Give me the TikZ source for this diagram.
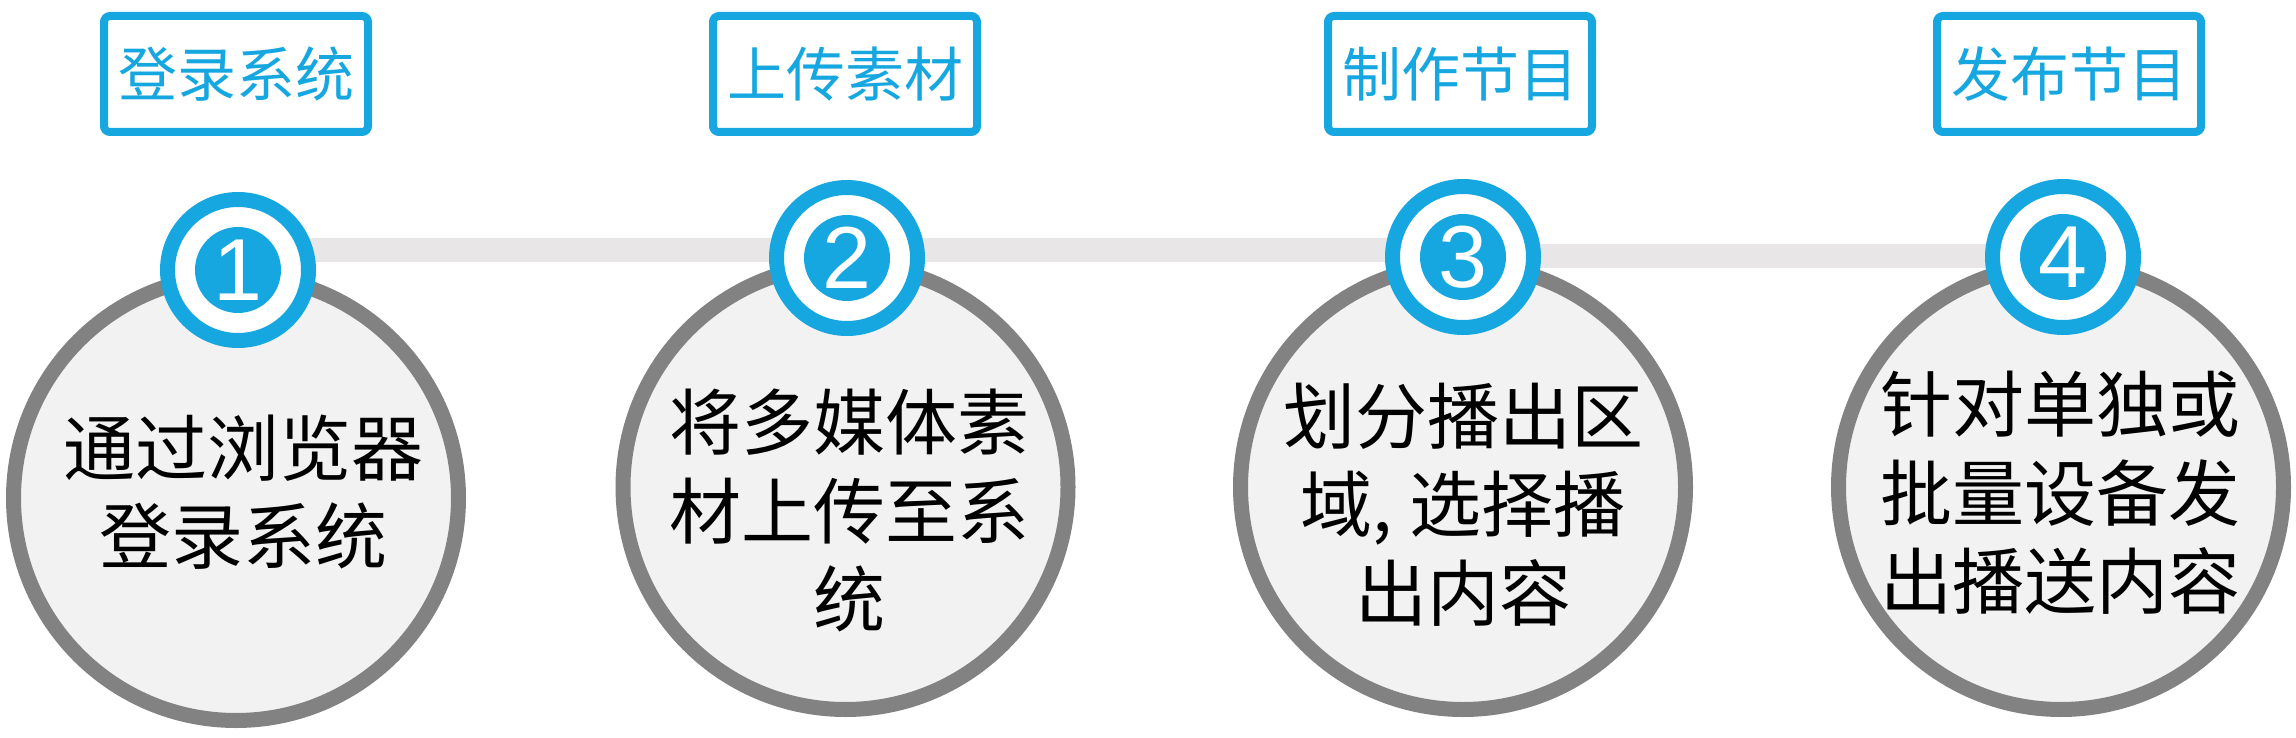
\documentclass[tikz,border=0pt]{standalone}
\usepackage{fontspec}
\setmainfont{Noto Sans CJK SC}
\newfontfamily\digitfont{Liberation Sans}
\usepackage{tikz}
\usetikzlibrary{calc}

\definecolor{stepblue}{RGB}{23,167,224}
\definecolor{ringgray}{RGB}{130,130,130}
\definecolor{discfill}{RGB}{242,242,242}
\definecolor{bargray}{RGB}{232,230,231}

\tikzset{
  titlebox/.style={draw=stepblue, line width=8pt, rounded corners=6pt,
    minimum width=264pt, minimum height=116pt, inner sep=0pt,
    text=stepblue, font=\fontsize{59}{59}\selectfont},
  stepcircle/.style={circle, draw=ringgray, fill=discfill, line width=15pt,
    minimum size=445pt, inner sep=0pt},
  numring/.style={circle, draw=stepblue, fill=white, line width=15pt,
    minimum size=141pt, inner sep=0pt},
  numdisc/.style={circle, fill=stepblue, minimum size=86pt, inner sep=0pt,
    text=white, font=\digitfont\fontsize{88}{88}\selectfont},
  bodytext/.style={align=center, inner sep=0pt, font=\fontsize{72}{88.5}\selectfont},
  linkbar/.style={draw=bargray, line width=24pt}
}

\begin{document}
\begin{tikzpicture}[x=1pt, y=-1pt]
\useasboundingbox (0,0) rectangle (2296,738);

% Step centres
\coordinate (c1) at (238,270);
\coordinate (c2) at (847,258);
\coordinate (c3) at (1463,257);
\coordinate (c4) at (2063,257);

% Grey track
\draw[linkbar] ($(c1)+(0,-20)$) -- ($(c3)+(0,-7)$);
\draw[linkbar] ($(c3)+(0,-1)$) -- ($(c4)+(0,-1)$);

% Big circles
\node[stepcircle] (s1) at (236,498) {};
\node[stepcircle] (s2) at (845.5,487) {};
\node[stepcircle] (s3) at (1463,487) {};
\node[stepcircle] (s4) at (2061,487) {};

% Descriptions
\node[bodytext] (d1) at (243,492) {通过浏览器\\登录系统};
\node[bodytext] (d2) at (849,510.5) {将多媒体素\\材上传至系\\统};
\node[bodytext] (d3) at (1463,504.5) {划分播出区\\域, 选择播\hspace*{0.47em}\\出内容};
\node[bodytext] (d4) at (2060,493) {针对单独或\\批量设备发\\出播送内容};

% Number badges
\foreach \i in {1,...,4} {
  \node[numring] (r\i) at (c\i) {};
  \node[numdisc] (n\i) at (c\i) {\i};
}

% Titles
\node[titlebox] (t1) at (236,74) {登录系统};
\node[titlebox] (t2) at (845,74) {上传素材};
\node[titlebox] (t3) at (1460,74) {制作节目};
\node[titlebox] (t4) at (2069,74) {发布节目};

\end{tikzpicture}
\end{document}
